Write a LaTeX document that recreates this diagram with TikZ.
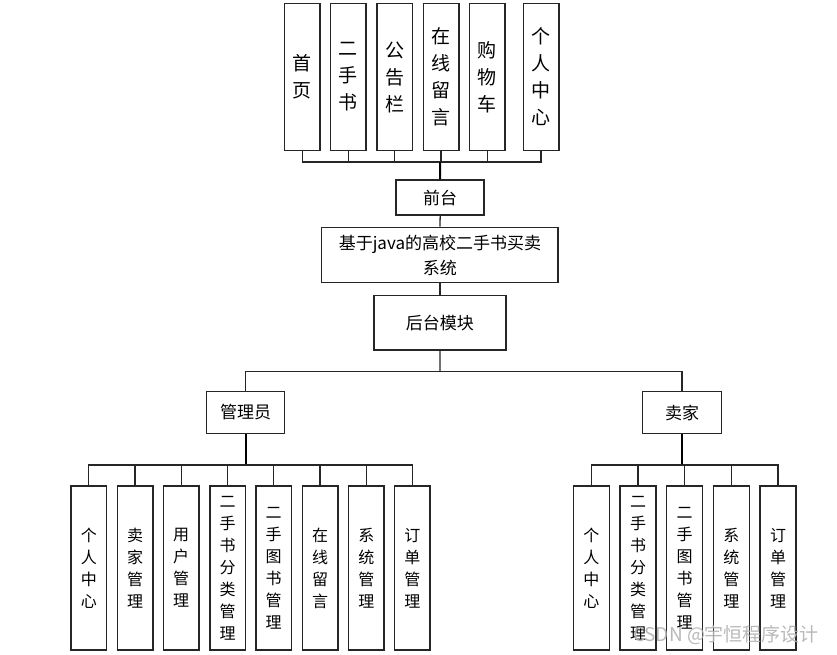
\documentclass[tikz,border=0pt]{standalone}
\usepackage{fontspec}
\setmainfont{Noto Sans CJK SC}
\begin{document}
\begin{tikzpicture}[x=1pt,y=-1pt,
  box/.style={draw=black!85, line width=1.5pt, fill=white, inner sep=0pt, align=center},
  topbox/.style={box, minimum width=35.5pt, minimum height=147pt, font=\fontsize{19}{27}\selectfont},
  leafbox/.style={box, minimum width=35.5pt, minimum height=164pt, font=\fontsize{16}{22}\selectfont},
  midbox/.style={box, font=\fontsize{17}{25}\selectfont},
  conn/.style={draw=black!85, line width=1.3pt},
  trunk/.style={draw=black, line width=2pt}]
\useasboundingbox (0,0) rectangle (837,654);
% top boxes
\node[topbox] (t1) at (302.3,77) {首\\页};
\node[topbox] (t2) at (348.3,77) {二\\手\\书};
\node[topbox] (t3) at (394.5,77) {公\\告\\栏};
\node[topbox] (t4) at (441,77) {在\\线\\留\\言};
\node[topbox] (t5) at (487.2,77) {购\\物\\车};
\node[topbox] (t6) at (541,77) {个\\人\\中\\心};
\coordinate (busT) at (440,162);
\node[midbox, minimum width=88pt, minimum height=35pt] (qt) at (440.2,197.5) {前台};
\node[midbox, minimum width=236.5pt, minimum height=55.4pt] (sys) at (439.9,255) {基于java的高校二手书买卖\\系统};
\node[midbox, minimum width=131.7pt, minimum height=54.7pt] (ht) at (439.9,322.7) {后台模块};
\coordinate (busM) at (440,371.7);
\node[midbox, minimum width=77.6pt, minimum height=41.6pt] (gly) at (245.5,412.5) {管理员};
\node[midbox, minimum width=78.6pt, minimum height=41.6pt] (mj) at (682,412.5) {卖家};
% admin leaves
\node[leafbox] (a1) at (88.8,568) {个\\人\\中\\心};
\node[leafbox] (a2) at (135,568) {卖\\家\\管\\理};
\node[leafbox] (a3) at (181.2,568) {用\\户\\管\\理};
\node[leafbox] (a4) at (227.5,568) {二\\手\\书\\分\\类\\管\\理};
\node[leafbox] (a5) at (273.7,568) {二\\手\\图\\书\\管\\理};
\node[leafbox] (a6) at (320,568) {在\\线\\留\\言};
\node[leafbox] (a7) at (366.3,568) {系\\统\\管\\理};
\node[leafbox] (a8) at (412.3,568) {订\\单\\管\\理};
\coordinate (busA) at (245.5,465);
% seller leaves
\node[leafbox, minimum width=36pt] (s1) at (591.3,568) {个\\人\\中\\心};
\node[leafbox, minimum width=36pt] (s2) at (638,568) {二\\手\\书\\分\\类\\管\\理};
\node[leafbox, minimum width=36pt] (s3) at (684.7,568) {二\\手\\图\\书\\管\\理};
\node[leafbox, minimum width=36pt] (s4) at (731.3,568) {系\\统\\管\\理};
\node[leafbox, minimum width=36pt] (s5) at (778,568) {订\\单\\管\\理};
\coordinate (busS) at (682,465);
% connectors top
\draw[conn] (t1.south) -- (t1.south |- busT) -- (t6.south |- busT) -- (t6.south);
\foreach \n in {t2,t3,t4,t5} \draw[conn] (\n.south) -- (\n.south |- busT);
\draw[trunk] (busT) -- (qt.north);
\draw[conn] (qt.south) -- (sys.north);
\draw[conn] (sys.south) -- (ht.north);
\draw[conn] (ht.south) -- (busM);
\draw[conn] (gly.north) -- (gly.north |- busM) -- (mj.north |- busM) -- (mj.north);
% admin connectors
\draw[trunk] (gly.south) -- (busA);
\draw[conn] (a1.north) -- (a1.north |- busA) -- (a8.north |- busA) -- (a8.north);
\foreach \n in {a2,a3,a4,a5,a6,a7} \draw[conn] (\n.north) -- (\n.north |- busA);
% seller connectors
\draw[trunk] (mj.south) -- (busS);
\draw[conn] (s1.north) -- (s1.north |- busS) -- (s5.north |- busS) -- (s5.north);
\foreach \n in {s2,s3,s4} \draw[conn] (\n.north) -- (\n.north |- busS);
% watermark
\node[text=gray!60, opacity=0.9, font=\fontsize{19}{21}\selectfont, inner sep=0pt] (wm) at (726,635) {CSDN @宇恒程序设计};
\end{tikzpicture}
\end{document}
